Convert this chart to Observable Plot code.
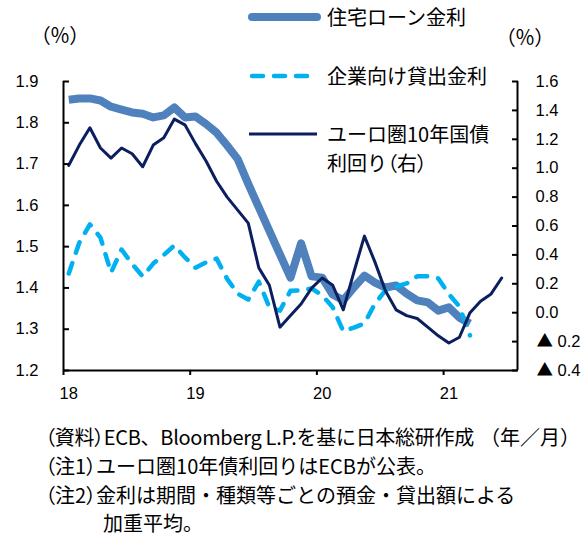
<!DOCTYPE html>
<html><head><meta charset="utf-8">
<script src="https://cdn.jsdelivr.net/npm/d3@7"></script>
<script src="https://cdn.jsdelivr.net/npm/@observablehq/plot@0.6"></script>
<style>
body{margin:0;background:#fff;}
#wrap{position:relative;width:585px;height:541px;overflow:hidden;background:#fff;color:#000;font-family:"Liberation Sans","Noto Sans CJK JP",sans-serif;}
.abs{position:absolute;white-space:nowrap;line-height:24px;}
.jp{font-family:"Noto Sans CJK JP",sans-serif;}
.palt{font-feature-settings:"palt";}
#plot{position:absolute;left:0;top:0;}
</style></head><body><div id="wrap"><div id="plot"></div></div>
<script>
// ---- data (monthly, Jan 2018 onward) ----
const yearLabels = ["18", "19", "20", "21"];
const housingRate = [1.856, 1.859, 1.859, 1.854, 1.839, 1.832, 1.825, 1.822, 1.813, 1.818, 1.837, 1.813,
  1.815, 1.797, 1.776, 1.745, 1.712, 1.652, 1.595, 1.538, 1.481, 1.425, 1.508, 1.428,
  1.425, 1.384, 1.370, 1.401, 1.430, 1.413, 1.401, 1.406, 1.386, 1.370, 1.365, 1.345,
  1.353, 1.328, 1.314];
const corporateRate = [1.435, 1.510, 1.554, 1.522, 1.437, 1.493, 1.458, 1.428, 1.459, 1.480, 1.503, 1.474,
  1.449, 1.462, 1.471, 1.422, 1.386, 1.372, 1.415, 1.353, 1.345, 1.393, 1.394, 1.399,
  1.382, 1.353, 1.295, 1.304, 1.314, 1.362, 1.394, 1.403, 1.411, 1.428, 1.428, 1.423,
  1.385, 1.355, 1.285];
const bondYield = [1.02, 1.16, 1.28, 1.14, 1.07, 1.14, 1.10, 1.01, 1.16, 1.21, 1.34, 1.30,
  1.17, 1.05, 0.91, 0.80, 0.71, 0.62, 0.31, 0.19, -0.10, -0.02, 0.06, 0.17,
  0.24, 0.19, 0.02, 0.28, 0.53, 0.35, 0.15, 0.02, -0.02, -0.04, -0.10, -0.16,
  -0.21, -0.17, 0.00, 0.08, 0.13, 0.24];
const leftTicks = [1.2, 1.3, 1.4, 1.5, 1.6, 1.7, 1.8, 1.9];
const rightTicks = [-0.4, -0.2, 0.0, 0.2, 0.4, 0.6, 0.8, 1.0, 1.2, 1.4, 1.6];
const negativeMark = "▲";
const seriesNames = ["住宅ローン金利", "企業向け貸出金利", "ユーロ圏10年国債", "利回り（右）"];
const notes = ["（資料）ECB、Bloomberg L.P.を基に日本総研作成", "（注1）ユーロ圏10年債利回りはECBが公表。", "（注2）金利は期間・種類等ごとの預金・貸出額による", "加重平均。"];
const unitLabel = "（％）";
const xUnit = "（年／月）";

const colors = {housing: "#4F81BD", corp: "#00B0F0", bond: "#0B1F5E"};
const totalMonths = 43;
// right-axis value -> left-axis equivalent
const L0 = 1.2, L1 = 1.9, R0 = -0.4, R1 = 1.6;
const toLeft = v => L0 + (v - R0) * (L1 - L0) / (R1 - R0);
const fromLeft = d => R0 + (d - L0) * (R1 - R0) / (L1 - L0);
const fmtRight = d => Math.abs(Math.round(fromLeft(d) * 10) / 10).toFixed(1);
const rightPos = rightTicks.filter(v => v >= 0).map(toLeft);
const rightNeg = rightTicks.filter(v => v < 0).map(toLeft);

const yearStarts = yearLabels.map((_, i) => i * 12);
const yearLabelPos = yearLabels.map((_, i) => i * 12 + 0.5);
const tickFont = 16.5;

const chart = Plot.plot({
  width: 585, height: 410,
  marginTop: 81, marginBottom: 40, marginLeft: 63, marginRight: 68,
  x: {domain: [0, totalMonths]},
  y: {domain: [L0, L1]},
  style: {fontFamily: '"Liberation Sans", "DejaVu Sans", sans-serif', fontSize: tickFont + "px", color: "#000", background: "transparent", overflow: "visible"},
  marks: [
    Plot.line(housingRate, {x: (d, i) => i + 0.5, y: d => d, stroke: colors.housing, strokeWidth: 8, strokeLinejoin: "round", strokeLinecap: "butt"}),
    Plot.line(corporateRate, {x: (d, i) => i + 0.5, y: d => d, stroke: colors.corp, strokeWidth: 4.5, strokeDasharray: "11,11", strokeLinecap: "round", strokeLinejoin: "round"}),
    Plot.line(bondYield, {x: (d, i) => i + 0.5, y: d => toLeft(d), stroke: colors.bond, strokeWidth: 3, strokeLinejoin: "round"}),
    Plot.ruleX([0], {stroke: "#000", strokeWidth: 2}),
    Plot.ruleX([totalMonths], {stroke: "#000", strokeWidth: 2}),
    Plot.ruleY([L0], {stroke: "#000", strokeWidth: 2}),
    Plot.axisY(leftTicks, {anchor: "left", tickSize: 0, tickPadding: 25, fontSize: tickFont, tickFormat: d => d.toFixed(1), label: null}),
    Plot.axisY(leftTicks, {anchor: "left", tickSize: 6, insetLeft: 6, fill: "none", strokeWidth: 2, label: null}),
    Plot.axisY(rightPos, {anchor: "right", tickSize: 0, tickPadding: 18, fontSize: tickFont, textAnchor: "start", tickFormat: fmtRight, label: null}),
    Plot.axisY(rightNeg, {anchor: "right", tickSize: 0, tickPadding: 19, fontSize: tickFont, fontFamily: '"Noto Sans CJK JP", sans-serif', textAnchor: "start", tickFormat: () => negativeMark, label: null}),
    Plot.axisY(rightNeg, {anchor: "right", tickSize: 0, tickPadding: 40, fontSize: tickFont, textAnchor: "start", tickFormat: fmtRight, label: null}),
    Plot.axisY(rightTicks.map(toLeft), {anchor: "right", tickSize: 6, insetRight: 6, fill: "none", strokeWidth: 2, label: null}),
    Plot.axisX(yearStarts, {tickSize: 5, fill: "none", strokeWidth: 2, label: null}),
    Plot.axisX(yearLabelPos, {tickSize: 0, tickPadding: 17, fontSize: tickFont, tickFormat: (d) => yearLabels[Math.round((d - 0.5) / 12)], label: null})
  ]
});
document.getElementById("plot").appendChild(chart);

const wrap = document.getElementById("wrap");
const esc = s => s.replace(/[&<>]/g, c => ({"&": "&amp;", "<": "&lt;", ">": "&gt;"}[c]));
function addText(txt, left, top, size, extra, paltParens) {
  const el = document.createElement("div");
  el.className = "abs jp";
  if (paltParens) el.innerHTML = esc(txt).replace(/([（）])/g, '<span class="palt">$1</span>');
  else el.textContent = txt;
  el.style.left = left + "px"; el.style.top = top + "px"; el.style.fontSize = size + "px";
  if (extra) Object.assign(el.style, extra);
  wrap.appendChild(el);
  return el;
}
// units
addText(unitLabel, 40, 23, 20, null, true);
addText(unitLabel, 505, 25, 20, null, true);
// legend
const ns = "http://www.w3.org/2000/svg";
const lg = document.createElementNS(ns, "svg");
lg.setAttribute("width", 585); lg.setAttribute("height", 200);
lg.style.position = "absolute"; lg.style.left = "0"; lg.style.top = "0";
const legendItems = [
  {y: 17, color: colors.housing, w: 8, dash: null, cap: "round"},
  {y: 76, color: colors.corp, w: 4.5, dash: "11,11", cap: "round"},
  {y: 134, color: colors.bond, w: 3, dash: null, cap: "butt"}
];
legendItems.forEach(it => {
  const l = document.createElementNS(ns, "line");
  l.setAttribute("x1", it.cap === "round" ? 252 : 249); l.setAttribute("x2", 317);
  l.setAttribute("y1", it.y); l.setAttribute("y2", it.y);
  l.setAttribute("stroke", it.color); l.setAttribute("stroke-width", it.w); l.setAttribute("stroke-linecap", it.cap);
  if (it.dash) l.setAttribute("stroke-dasharray", it.dash);
  lg.appendChild(l);
});
wrap.appendChild(lg);
const legendY = [17, 76, 134, 163];
seriesNames.forEach((s, i) => addText(s, 327, legendY[i] - 12, 20, null, true));
// notes
const noteY = [437, 466, 495, 523];
notes.forEach((s, i) => addText(s, i === 3 ? 103 : 45, noteY[i] - 12, 20, i === 0 ? {letterSpacing: "-0.3px"} : null, true));
const xu = addText(xUnit, 0, noteY[0] - 12, 20);
xu.style.left = (580 - xu.getBoundingClientRect().width) + "px";
</script></body></html>
